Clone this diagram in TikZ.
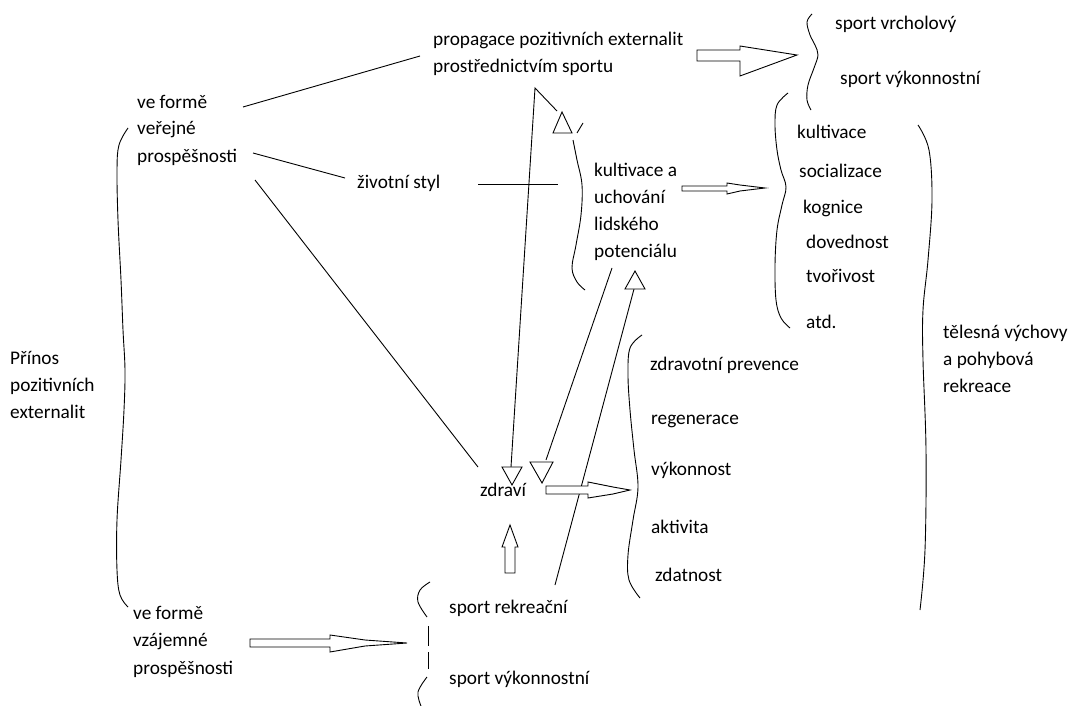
\documentclass[tikz,border=0pt]{standalone}
\usepackage{fontspec}
\setmainfont{Carlito}
\begin{document}
\begin{tikzpicture}[x=1pt,y=-1pt,
  txt/.style={anchor=base west, inner sep=0pt, font=\fontsize{19.3}{27}\selectfont},
  ln/.style={line width=0.9pt},
  blk/.style={draw, line width=0.9pt, fill=white, line join=miter},
  tri/.style={draw, line width=0.9pt, fill=white}]
\useasboundingbox (0,0) rectangle (1071,706);
\fill[white] (0,0) rectangle (1071,706);

% ---------- texts ----------
\node[txt] (p1) at (433,46) {propagace pozitivních externalit};
\node[txt] (p2) at (433,73) {prostřednictvím sportu};
\node[txt] (vf1) at (137,109) {ve formě};
\node[txt] (vf2) at (137,135) {veřejné};
\node[txt] (vf3) at (137,162) {prospěšnosti};
\node[txt] (zs) at (357,189) {životní styl};
\node[txt] (k1) at (594,176) {kultivace a};
\node[txt] (k2) at (594,203) {uchování};
\node[txt] (k3) at (594,230) {lidského};
\node[txt] (k4) at (594,257) {potenciálu};
\node[txt] (sv1) at (835,30) {sport vrcholový};
\node[txt] (sv2) at (840,85) {sport výkonnostní};
\node[txt] (l1) at (797,139) {kultivace};
\node[txt] (l2) at (799,177) {socializace};
\node[txt] (l3) at (803,213) {kognice};
\node[txt] (l4) at (806,248) {dovednost};
\node[txt] (l5) at (806,282) {tvořivost};
\node[txt] (l6) at (806,328) {atd.};
\node[txt] (t1) at (943,338) {tělesná výchovy};
\node[txt] (t2) at (943,365) {a pohybová};
\node[txt] (t3) at (943,392) {rekreace};
\node[txt] (pr1) at (10,364) {Přínos};
\node[txt] (pr2) at (10,391) {pozitivních};
\node[txt] (pr3) at (10,418) {externalit};
\node[txt] (z1) at (650,370) {zdravotní prevence};
\node[txt] (z2) at (651,424) {regenerace};
\node[txt] (z3) at (651,475) {výkonnost};
\node[txt] (z4) at (651,533) {aktivita};
\node[txt] (z5) at (655,581) {zdatnost};
\node[txt] (zd) at (480,496) {zdraví};
\node[txt] (vz1) at (133,619) {ve formě};
\node[txt] (vz2) at (133,646) {vzájemné};
\node[txt] (vz3) at (133,674) {prospěšnosti};
\node[txt] (sr) at (449,613) {sport rekreační};
\node[txt] (sk) at (449,684) {sport výkonnostní};

% ---------- connector end points ----------
\coordinate (a1) at (243,107); \coordinate (a2) at (420,56);
\coordinate (b1) at (253,153); \coordinate (b2) at (345,178);
\coordinate (c1) at (255,180); \coordinate (c2) at (478,467);
\coordinate (d1) at (478,184); \coordinate (d2) at (558,184);
\coordinate (e1) at (511,467); \coordinate (e2) at (535,88); \coordinate (e3) at (557,111);
\coordinate (f1) at (612,268); \coordinate (f2) at (546,460);
\coordinate (g1) at (555,585); \coordinate (g2) at (634,289);

% ---------- plain lines ----------
\draw[ln] (a1) -- (a2);
\draw[ln] (b1) -- (b2);
\draw[ln] (c1) -- (c2);
\draw[ln] (d1) -- (d2);
\draw[ln] (e1) -- (e2) -- (e3);
\draw[ln] (f1) -- (f2);
\draw[ln] (g1) -- (g2);

% ---------- open triangle heads ----------
\draw[tri] (562,112) -- (553,133) -- (572,133) -- cycle;
\draw[tri] (502,467) -- (522,467) -- (512,485) -- cycle;
\draw[tri] (530,462) -- (553,462) -- (542,483) -- cycle;
\draw[tri] (635,271) -- (625,289) -- (645,289) -- cycle;

% ---------- block arrows ----------
\draw[blk] (697,50) -- (740,50) -- (740,46) -- (797,55) -- (740,76) -- (740,61) -- (697,61) -- cycle;
\draw[blk] (682,186) -- (727,186) -- (727,183) -- (740,185) -- (765,188) -- (740,191) -- (727,194) -- (727,191) -- (682,191) -- cycle;
\draw[blk] (546,486) -- (588,486) -- (588,482) -- (613,487) -- (630,490) -- (613,494) -- (588,498) -- (588,494) -- (546,494) -- cycle;
\draw[blk] (250,639) -- (330,639) -- (330,635) -- (365,640) -- (407,643) -- (365,646) -- (330,652) -- (330,647) -- (250,647) -- cycle;
\draw[blk] (505,573) -- (505,547) -- (502,547) -- (510,525) -- (518,547) -- (515,547) -- (515,573) -- cycle;

% ---------- hand-drawn braces ----------
\draw[ln] plot[smooth, tension=0.6] coordinates {(128,128) (119,145) (117,170) (118,220) (121,280) (123,330) (125,370) (124,410) (121,460) (117,520) (117,570) (120,595) (128,607)};
\draw[ln] plot[smooth, tension=0.6] coordinates {(918,125) (929,150) (932,200) (928,260) (923,310) (923,360) (926,450) (925,550) (920,610)};
\draw[ln] plot[smooth, tension=0.6] coordinates {(812,14) (807,22) (810,35) (815,45) (818,55) (814,68) (808,85) (807,100) (811,110)};
\draw[ln] plot[smooth, tension=0.6] coordinates {(788,93) (777,105) (775,125) (777,150) (781,170) (786,187) (782,205) (777,230) (775,265) (776,300) (781,318) (790,328)};
\draw[ln] plot[smooth, tension=0.6] coordinates {(642,335) (630,348) (628,375) (630,410) (634,450) (638,487) (633,520) (628,555) (629,580) (640,598)};
\draw[ln] (583,123) -- (577,133);
\draw[ln] plot[smooth, tension=0.6] coordinates {(573,140) (577,160) (582,185) (581,215) (576,245) (572,268) (577,282) (585,290)};
\draw[ln] plot[smooth, tension=0.6] coordinates {(430,582) (420,590) (418,602) (427,617)};
\draw[ln] (428,626) -- (428,646);
\draw[ln] (428,652) -- (428,669);
\draw[ln] plot[smooth, tension=0.6] coordinates {(427,677) (418,692) (421,706)};
\end{tikzpicture}
\end{document}
